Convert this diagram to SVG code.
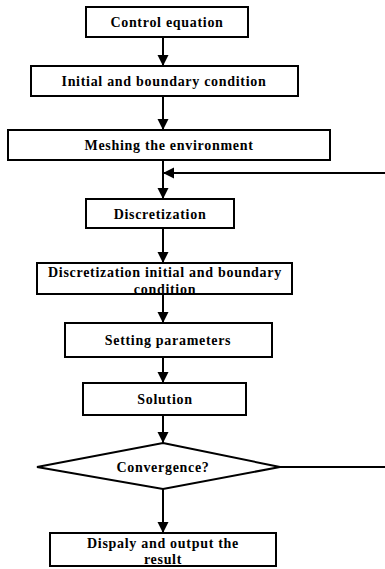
<svg xmlns="http://www.w3.org/2000/svg" width="385" height="569" viewBox="0 0 385 569">
<style>
.box{fill:#fff;stroke:#000;stroke-width:2}
.t{font-family:"Liberation Serif","Times New Roman",serif;font-weight:bold;font-size:14px;letter-spacing:0.7px;text-anchor:middle;fill:#000}
.ln{stroke:#000;stroke-width:2;fill:none}
</style>
<defs>
<marker id="ah" viewBox="0 0 10 10" refX="10" refY="5" markerWidth="5.5" markerHeight="6" orient="auto" markerUnits="strokeWidth">
<path d="M0,0 L10,5 L0,10 z" fill="#000"/>
</marker>
</defs>
<rect width="385" height="569" fill="#fff"/>
<g id="connectors">
<line class="ln" x1="163" y1="37" x2="163" y2="66" marker-end="url(#ah)"/>
<line class="ln" x1="163" y1="96" x2="163" y2="130" marker-end="url(#ah)"/>
<line class="ln" x1="163" y1="160" x2="163" y2="199" marker-end="url(#ah)"/>
<line class="ln" x1="385" y1="173" x2="163" y2="173" marker-end="url(#ah)"/>
<line class="ln" x1="163" y1="228" x2="163" y2="263" marker-end="url(#ah)"/>
<line class="ln" x1="163" y1="294" x2="163" y2="323" marker-end="url(#ah)"/>
<line class="ln" x1="163" y1="357" x2="163" y2="383" marker-end="url(#ah)"/>
<line class="ln" x1="163" y1="415" x2="163" y2="443" marker-end="url(#ah)"/>
<line class="ln" x1="163" y1="489" x2="163" y2="533" marker-end="url(#ah)"/>
<line class="ln" x1="280" y1="467" x2="385" y2="467"/>
</g>
<g id="n1"><rect class="box" x="86" y="7" width="162" height="30"/><text class="t" x="167" y="27">Control equation</text></g>
<g id="n2"><rect class="box" x="31" y="66" width="267" height="30"/><text class="t" x="164" y="86">Initial and boundary condition</text></g>
<g id="n3"><rect class="box" x="8" y="130" width="322" height="30"/><text class="t" x="169" y="150">Meshing the environment</text></g>
<g id="n4"><rect class="box" x="86" y="199" width="148" height="29"/><text class="t" x="160" y="219">Discretization</text></g>
<g id="n5"><rect class="box" x="37" y="263" width="255" height="31"/><text class="t" x="165" y="277">Discretization initial and boundary</text><text class="t" x="165" y="294">condition</text></g>
<g id="n6"><rect class="box" x="65" y="323" width="207" height="34"/><text class="t" x="168" y="345">Setting parameters</text></g>
<g id="n7"><rect class="box" x="83" y="383" width="163" height="32"/><text class="t" x="165" y="404">Solution</text></g>
<g id="n8"><polygon class="box" points="163,443 280,467 163,489 37,467"/><text class="t" x="163" y="472">Convergence?</text></g>
<g id="n9"><rect class="box" x="50" y="533" width="226" height="33"/><text class="t" x="163" y="548">Dispaly and output the</text><text class="t" x="163" y="564">result</text></g>
</svg>
